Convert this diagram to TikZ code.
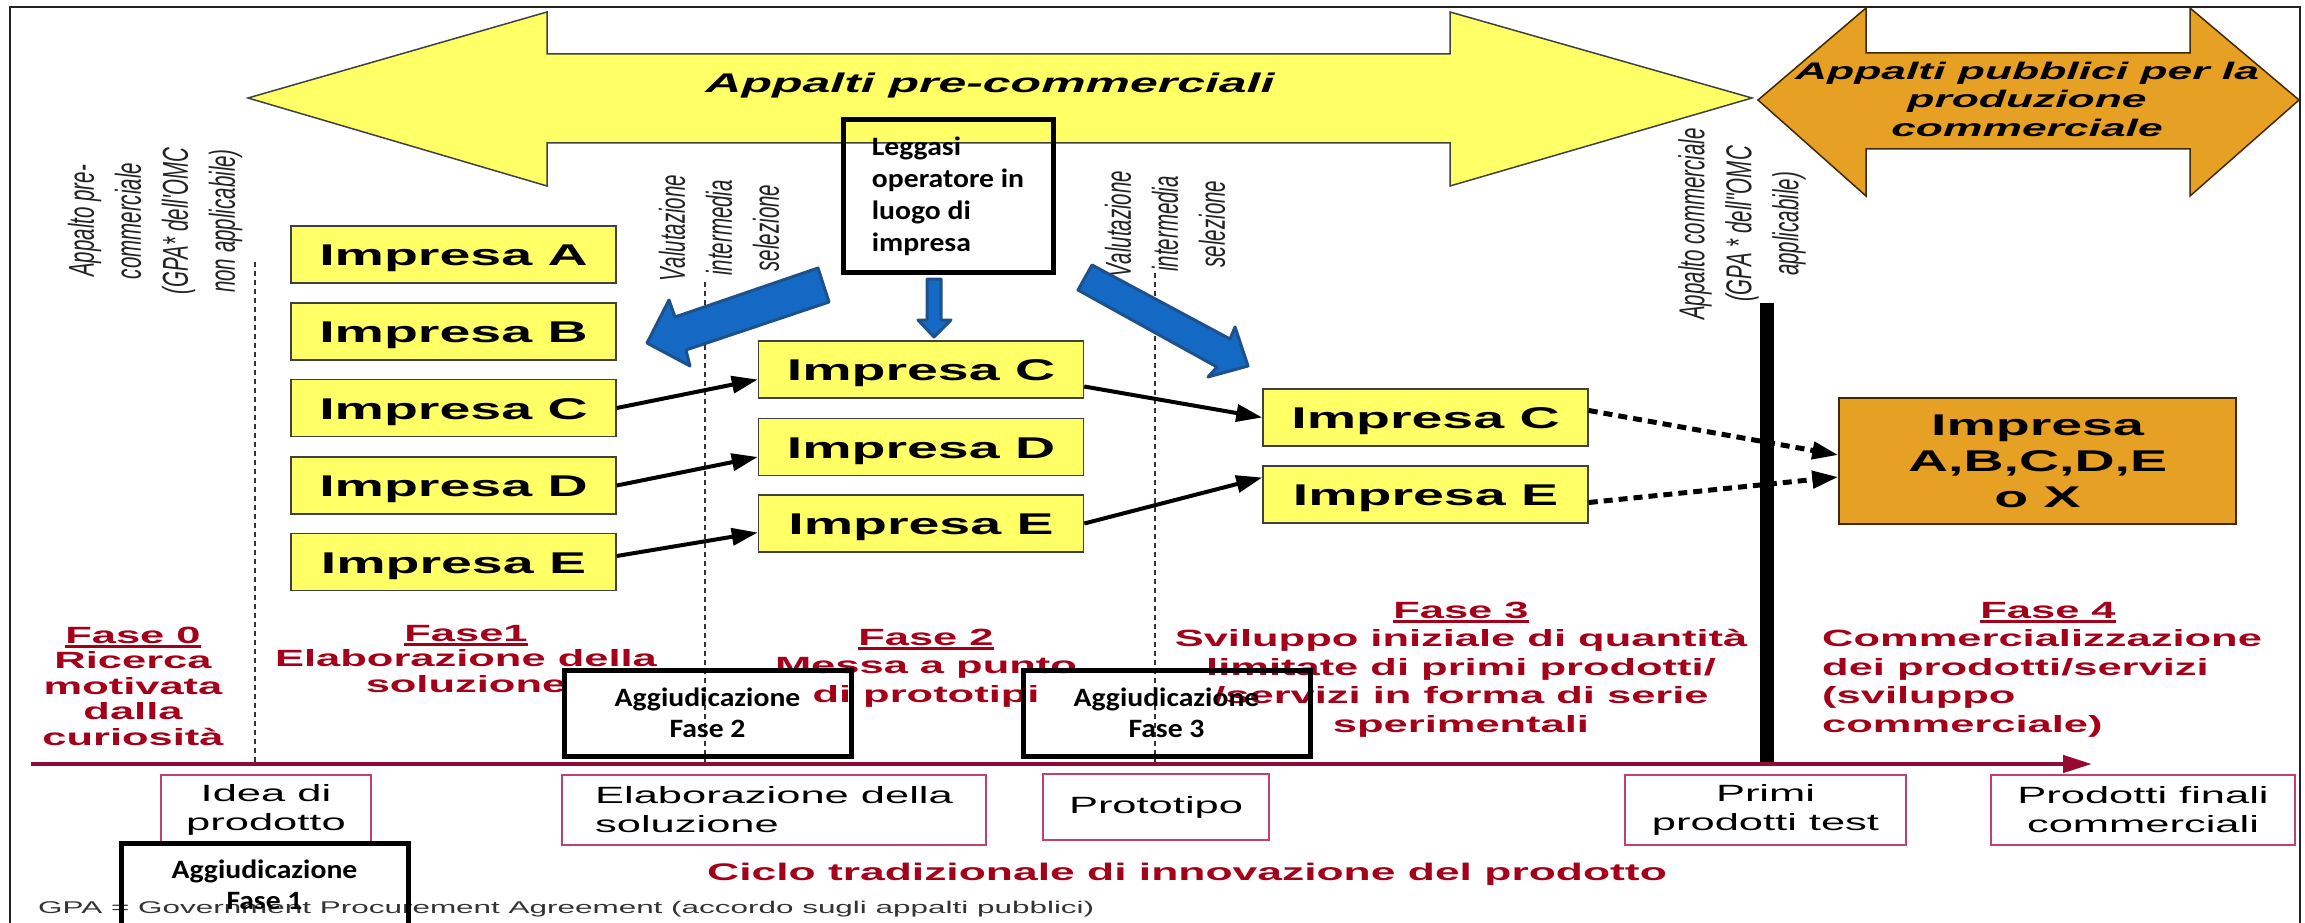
\documentclass[tikz,border=0pt]{standalone}
\usepackage{fontspec}
\setmainfont{Liberation Sans}[FakeStretch=1.85]
\newfontfamily\rotfont{Liberation Sans}[FakeStretch=0.57]
\newfontfamily\gillfont{Carlito}[FakeStretch=1.12]
\usetikzlibrary{arrows.meta}

\newsavebox{\faseulbox}
\newcommand{\faseul}[1]{\sbox{\faseulbox}{#1}\rlap{\rule[-4.5pt]{\wd\faseulbox}{2.5pt}}\usebox{\faseulbox}}

\begin{document}
\begin{tikzpicture}[x=1pt,y=-1pt,line cap=rect,
  impresa/.style={draw=custcol_40_40_40, fill=custcol_ff_ff_66, line width=1.5pt, minimum width=325pt,
    minimum height=57pt, inner sep=0pt, text height=22pt, text depth=0pt, font=\fontsize{30pt}{36pt}\bfseries\selectfont},
  flow/.style={line width=4pt, line cap=butt, -{Triangle[length=26pt,width=17pt]}},
  dotflow/.style={line width=5pt, line cap=butt, dash pattern=on 9pt off 6pt, -{Triangle[length=26pt,width=17pt]}},
  sepline/.style={line width=1.3pt, line cap=butt, custcol_33_33_33, dash pattern=on 5pt off 4pt},
  rotlabel/.style={rotate=90, align=center, inner sep=0pt, text=custcol_22_22_22, font=\rotfont\itshape\fontsize{36pt}{47pt}\selectfont},
  fase/.style={anchor=base, align=center, inner sep=0pt, text=custcol_a5_00_19, font=\fontsize{23.5pt}{28.5pt}\bfseries\selectfont},
  stagebox/.style={draw=custcol_c0_40_70, line width=1.5pt, fill=white, inner sep=0pt, align=center, minimum height=70pt,
    font=\fontsize{23.5pt}{29pt}\selectfont},
  aggbox/.style={draw=black, line width=5pt, inner sep=0pt, align=center, minimum width=287pt,
    font=\gillfont\bfseries\fontsize{26.5pt}{31pt}\selectfont},
  blockarrow/.style={draw=custcol_1e_50_8c, fill=custcol_14_69_c4, line width=3pt, line join=round}]
\useasboundingbox (0,0) rectangle (2305,923);
\definecolor{custcol_22_22_22}{RGB}{34, 34, 34}
\definecolor{custcol_33_33_33}{RGB}{51, 51, 51}
\definecolor{custcol_40_40_40}{RGB}{64, 64, 64}
\definecolor{custcol_ff_ff_66}{RGB}{255, 255, 102}
\definecolor{custcol_e6_a0_24}{RGB}{230, 160, 36}
\definecolor{custcol_40_28_00}{RGB}{64, 40, 0}
\definecolor{custcol_a5_00_19}{RGB}{165, 0, 25}
\definecolor{custcol_96_0a_32}{RGB}{150, 10, 50}
\definecolor{custcol_c0_40_70}{RGB}{192, 64, 112}
\definecolor{custcol_14_69_c4}{RGB}{20, 105, 196}
\definecolor{custcol_1e_50_8c}{RGB}{30, 80, 140}
% frame
\draw [line width=2.5pt, custcol_22_22_22] (10,935) -- (10,7) -- (2300,7) -- (2300,935);
% procurement arrows
\draw [line width=1.5pt, custcol_40_40_40, fill=custcol_ff_ff_66] (248,98) -- (547,12) -- (547,54) -- (1450,54) -- (1450,12)
  -- (1752,98) -- (1450,186) -- (1450,143) -- (547,143) -- (547,186) -- cycle;
\draw [line width=1.5pt, custcol_40_28_00, fill=custcol_e6_a0_24] (1758,100) -- (1866,8) -- (1866,53) -- (2190,53) -- (2190,8)
  -- (2299,100) -- (2190,196) -- (2190,149) -- (1866,149) -- (1866,196) -- cycle;
\node[anchor=base, inner sep=0pt, font=\fontsize{27pt}{27pt}\bfseries\itshape\selectfont] (precomm) at (990,93) {Appalti pre-commerciali};
\node[anchor=base, align=center, inner sep=0pt, font=\fontsize{24pt}{28pt}\bfseries\itshape\selectfont] (commprod) at (2027,136)
  {Appalti pubblici per la\\produzione\\commerciale};
% separators
\draw [sepline] (255,262) -- (255,763);
\draw [sepline] (705,282) -- (705,763);
\draw [sepline] (1155,273) -- (1155,763);
\draw [line width=14pt, line cap=butt, black] (1767,303) -- (1767,762);
\node[rotlabel] (gpano) at (155,221) {Appalto pre-\\commerciale\\(GPA* dell'OMC\\non applicabile)};
\node[rotlabel] (valone) at (719,228) {Valutazione\\intermedia\\selezione};
\node[rotlabel] (valtwo) at (1165,224) {Valutazione\\intermedia\\selezione};
\node[rotlabel] (gpasi) at (1742,224) {Appalto commerciale\\(GPA * dell''OMC\\applicabile)};
% firms
\node[impresa] (A1) at (453.5,254.5) {Impresa A};
\node[impresa] (B1) at (453.5,331.5) {Impresa B};
\node[impresa] (C1) at (453.5,408) {Impresa C};
\node[impresa] (D1) at (453.5,485.5) {Impresa D};
\node[impresa] (E1) at (453.5,562) {Impresa E};
\node[impresa] (C2) at (921,369.5) {Impresa C};
\node[impresa] (D2) at (921,447) {Impresa D};
\node[impresa] (E2) at (921,523.5) {Impresa E};
\node[impresa] (C3) at (1425.5,417.5) {Impresa C};
\node[impresa] (E3) at (1425.5,494.5) {Impresa E};
\node[draw=custcol_40_28_00, fill=custcol_e6_a0_24, line width=1.5pt, minimum width=397pt, minimum height=126pt, inner sep=0pt,
  align=center, font=\fontsize{30pt}{36pt}\bfseries\selectfont] (final) at (2037.5,461) {Impresa\\A,B,C,D,E\\o X};
\draw [flow] (C1.east) -- ([yshift=-10pt]C2.west);
\draw [flow] (D1.east) -- ([yshift=-10pt]D2.west);
\draw [flow] ([yshift=6pt]E1.east) -- ([yshift=-9pt]E2.west);
\draw [flow] ([yshift=-17pt]C2.east) -- (C3.west);
\draw [flow] (E2.east) -- ([yshift=17pt]E3.west);
\draw [dotflow] ([yshift=7pt]C3.east) -- ([yshift=6pt]final.west);
\draw [dotflow] ([yshift=-8pt]E3.east) -- ([yshift=-16pt]final.west);
% phases (base = last line)
\node[fase, font=\fontsize{23.5pt}{25.5pt}\bfseries\selectfont] (fase0) at (133,745) {\faseul{Fase 0}\\Ricerca\\motivata\\dalla\\curiosità};
\node[fase, font=\fontsize{23.5pt}{25.5pt}\bfseries\selectfont] (fase1) at (466,692) {\faseul{Fase1}\\Elaborazione della\\soluzione};
\node[fase] (fase2) at (926,702) {\faseul{Fase 2}\\Messa a punto\\di prototipi};
\node[fase] (fase3) at (1461,732) {\faseul{Fase 3}\\Sviluppo iniziale di quantità\\limitate di primi prodotti/\\/servizi in forma di serie\\sperimentali};
\node[fase] (fase4) at (2048,618) {\faseul{Fase 4}};
\node[fase, anchor=base west, align=left] (fase4txt) at (1822,732) {Commercializzazione\\dei prodotti/servizi\\(sviluppo\\commerciale)};
% traditional cycle
\coordinate (axisL) at (31,764);
\coordinate (axisR) at (2092,764);
\draw [line width=4.5pt, line cap=butt, custcol_96_0a_32, -{Triangle[length=29pt,width=17pt]}] (axisL) -- (axisR);
\node[stagebox, minimum width=210pt] (idea) at (266,810) {Idea di\\prodotto};
\node[stagebox, minimum width=424pt, align=left] (elab) at (774,810) {Elaborazione della\\soluzione};
\node[stagebox, minimum width=226pt, minimum height=66pt] (proto) at (1156,807) {Prototipo};
\node[stagebox, minimum width=281pt] (primi) at (1765.5,810) {Primi\\prodotti test};
\node[stagebox, minimum width=304pt] (finali) at (2143,810) {Prodotti finali\\commerciali};
\node[anchor=base, inner sep=0pt, text=custcol_a5_00_19, font=\fontsize{24pt}{24pt}\bfseries\selectfont] (ciclo) at (1187,880)
  {Ciclo tradizionale di innovazione del prodotto};
\node[anchor=base west, inner sep=0pt, text=custcol_33_33_33, font=\fontsize{17pt}{17pt}\selectfont] (gpa) at (38,913)
  {GPA = Government Procurement Agreement (accordo sugli appalti pubblici)};
% overlay notes
\node[draw=black, line width=5pt, minimum width=210pt, minimum height=152pt, inner sep=0pt, align=left,
  font=\gillfont\bfseries\fontsize{26.5pt}{32pt}\selectfont] (leggasi) at (948,196) {Leggasi\\operatore in\\luogo di\\impresa};
\draw [blockarrow] (818,268) -- (829,302) -- (686,350) -- (690,366) -- (647,343) -- (669,300) -- (675,317) -- cycle;
\draw [blockarrow] (927,279) -- (941,279) -- (941,320) -- (951,320) -- (934,337) -- (918,320) -- (927,320) -- cycle;
\draw [blockarrow] (1092,265) -- (1230,339) -- (1235,327) -- (1248,366) -- (1208,377) -- (1217,367) -- (1078,290) -- cycle;
\node[aggbox, minimum height=84pt] (aggone) at (264.5,885) {Aggiudicazione\\Fase 1};
\node[aggbox, minimum height=86pt] (aggtwo) at (707.5,713) {Aggiudicazione\\Fase 2};
\node[aggbox, minimum height=86pt] (aggthree) at (1166.5,713) {Aggiudicazione\\Fase 3};
\end{tikzpicture}
\end{document}
